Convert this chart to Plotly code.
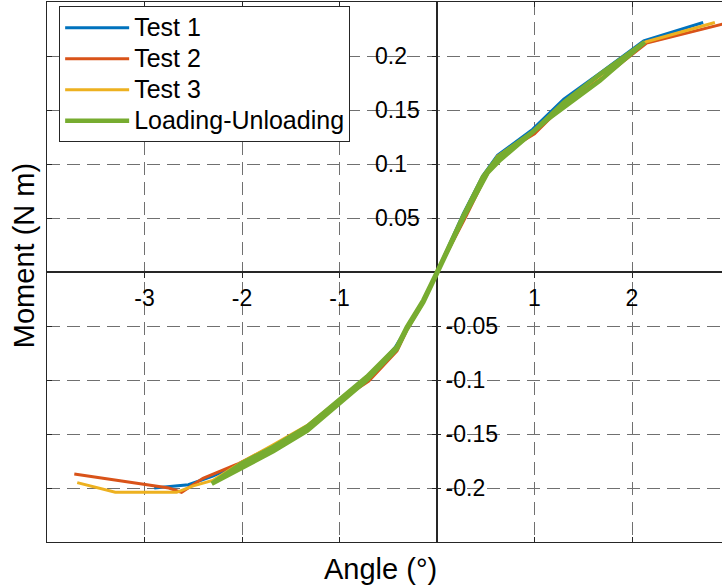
import plotly.graph_objects as go

# ---- data (angle in degrees, moment in N m) ----
test1_x = [-2.9, -2.55, -2.3, -2.0, -1.68, -1.33, -1.0, -0.72, -0.55, -0.43, -0.31, -0.14, 0.0,
           0.27, 0.47, 0.62, 0.98, 1.30, 1.67, 2.12, 2.73]
test1_y = [-0.200, -0.197, -0.189, -0.177, -0.162, -0.144, -0.119, -0.098, -0.082, -0.070, -0.052, -0.027, 0.0,
           0.054, 0.089, 0.108, 0.132, 0.160, 0.184, 0.214, 0.231]

test2_x = [-3.72, -2.75, -2.62, -2.4, -2.05, -1.68, -1.33, -1.0, -0.7, -0.41, -0.31, -0.14, 0.0,
           0.30, 0.48, 0.62, 1.0, 1.3, 1.7, 2.15, 2.95]
test2_y = [-0.187, -0.200, -0.204, -0.191, -0.178, -0.161, -0.143, -0.119, -0.101, -0.073, -0.054, -0.028, 0.0,
           0.052, 0.085, 0.107, 0.128, 0.155, 0.180, 0.212, 0.230]

test3_x = [-3.69, -3.3, -2.67, -2.5, -2.3, -2.0, -1.68, -1.33, -1.0, -0.72, -0.41, -0.31, -0.14, 0.0,
           0.28, 0.48, 0.62, 0.98, 1.3, 1.67, 2.14, 2.85]
test3_y = [-0.195, -0.204, -0.204, -0.198, -0.193, -0.176, -0.160, -0.142, -0.118, -0.099, -0.071, -0.053, -0.028, 0.0,
           0.052, 0.086, 0.107, 0.130, 0.157, 0.182, 0.213, 0.231]

load_x = [0.0, 0.27, 0.47, 0.62, 1.0, 1.3, 1.67, 2.13,
          1.67, 1.13, 0.65, 0.52, 0.27, 0.0,
          -0.14, -0.31, -0.41, -0.72, -1.0, -1.33, -1.68, -2.0, -2.31,
          -2.0, -1.68, -1.33, -1.0, -0.72, -0.41, -0.31, -0.14, 0.0]
load_y = [0.0, 0.052, 0.088, 0.106, 0.131, 0.157, 0.183, 0.213,
          0.177, 0.141, 0.104, 0.092, 0.050, 0.0,
          -0.028, -0.053, -0.071, -0.100, -0.121, -0.147, -0.166, -0.181, -0.196,
          -0.177, -0.162, -0.143, -0.118, -0.097, -0.069, -0.051, -0.026, 0.0]

names = ["Test 1", "Test 2", "Test 3", "Loading-Unloading"]
colors = ["#0072BD", "#D95319", "#EDB120", "#77AC30"]
widths = [3, 3, 3, 4.5]

x_ticks_all = [-4, -3, -2, -1, 0, 1, 2, 3]
x_tick_vals = [-3, -2, -1, 1, 2]
x_tick_text = ["-3", "-2", "-1", "1", "2"]
y_ticks_all = [-0.25, -0.2, -0.15, -0.1, -0.05, 0, 0.05, 0.1, 0.15, 0.2, 0.25]
y_pos_vals = [0.05, 0.1, 0.15, 0.2]
y_pos_text = ["0.05", "0.1", "0.15", "0.2"]
y_neg_vals = [-0.05, -0.1, -0.15, -0.2]
y_neg_text = ["-0.05", "-0.1", "-0.15", "-0.2"]
y_axis_tick_vals = [-0.2, -0.15, -0.1, -0.05, 0.05, 0.1, 0.15, 0.2]

X_RANGE = [-4, 2.923]
Y_RANGE = [-0.25, 0.25]

FONT = "Liberation Sans, Arial, Helvetica, sans-serif"
AX = "#262626"
GRID = "#707070"

fig = go.Figure()
for xs, ys, n, c, w in zip([test1_x, test2_x, test3_x, load_x],
                           [test1_y, test2_y, test3_y, load_y], names, colors, widths):
    fig.add_trace(go.Scatter(x=xs, y=ys, mode="lines",
                             name='<span style="font-size:25px">' + n + '</span>',
                             line=dict(color=c, width=w)))

# invisible traces to activate the label axes
for ya in ["y2", "y3", "y4"]:
    fig.add_trace(go.Scatter(x=[0], y=[0], xaxis="x2" if ya == "y2" else "x", yaxis=ya,
                             mode="markers", marker=dict(opacity=0),
                             showlegend=False, hoverinfo="skip"))

PLOT_L, PLOT_W = 47, 675
x0_frac = (0 - X_RANGE[0]) / (X_RANGE[1] - X_RANGE[0])
pos_label_frac = (374 - PLOT_L) / PLOT_W
tickfont = dict(size=23, family=FONT, color="#000000")

fig.update_layout(
    width=722, height=588,
    margin=dict(l=PLOT_L, r=0, t=2, b=46, autoexpand=False),
    paper_bgcolor="white", plot_bgcolor="white",
    font=dict(family=FONT, color="#000000", size=23),
    showlegend=True,
    legend=dict(x=0.018, y=0.992, xanchor="left", yanchor="top",
                bgcolor="white", bordercolor=AX, borderwidth=1,
                font=dict(size=21.5, family=FONT, color="#000000"),
                itemwidth=64, tracegroupgap=0),
    xaxis=dict(range=X_RANGE, tickvals=x_ticks_all, showticklabels=False, automargin=False,
               ticks="inside", ticklen=5, tickcolor=AX,
               showline=True, linecolor=AX, linewidth=1.3, mirror="ticks",
               showgrid=True, gridcolor=GRID, griddash="13px,7px", gridwidth=1,
               zeroline=True, zerolinecolor=AX, zerolinewidth=1.5),
    yaxis=dict(range=Y_RANGE, tickvals=y_ticks_all, showticklabels=False, automargin=False,
               ticks="inside", ticklen=5, tickcolor=AX,
               showline=True, linecolor=AX, linewidth=1.3, mirror=False,
               showgrid=True, gridcolor=GRID, griddash="13px,7px", gridwidth=1,
               zeroline=True, zerolinecolor=AX, zerolinewidth=1.5),
    xaxis2=dict(overlaying="x", matches="x", anchor="free", position=0.5, automargin=False,
                side="bottom", tickvals=x_tick_vals, ticktext=x_tick_text,
                ticks="outside", ticklen=5,
                tickcolor=AX, showline=False, showgrid=False, zeroline=False,
                ticklabelstandoff=0, tickfont=tickfont),
    # positive labels: left-aligned block to the left of the vertical axis
    yaxis2=dict(overlaying="y", matches="y", anchor="free", position=pos_label_frac, automargin=False,
                side="right", tickvals=y_pos_vals, ticktext=y_pos_text,
                ticks="", showline=False, showgrid=False, zeroline=False, ticklabelstandoff=0,
                tickfont=tickfont),
    # negative labels: right of the vertical axis
    yaxis3=dict(overlaying="y", matches="y", anchor="free", position=x0_frac, automargin=False,
                side="right", tickvals=y_neg_vals, ticktext=y_neg_text,
                ticks="outside", ticklen=3, tickcolor=AX,
                showline=False, showgrid=False, zeroline=False, ticklabelstandoff=0,
                tickfont=tickfont),
    # tick marks on the vertical axis through x = 0
    yaxis4=dict(overlaying="y", matches="y", anchor="free", position=x0_frac, automargin=False,
                side="left", tickvals=y_axis_tick_vals, showticklabels=False,
                ticks="outside", ticklen=5, tickcolor=AX,
                showline=False, showgrid=False, zeroline=False),
    annotations=[
        dict(text="Angle (°)", xref="paper", yref="paper", x=0.4935, y=-0.05,
             xanchor="center", yanchor="middle", showarrow=False,
             font=dict(size=29, family=FONT, color="#000000")),
        dict(text="Moment (N m)", xref="paper", yref="paper", x=-0.035, y=0.53,
             xanchor="center", yanchor="middle", textangle=-90, showarrow=False,
             font=dict(size=29, family=FONT, color="#000000")),
    ],
)

fig.write_html("out.html", config={"displayModeBar": False},
               post_script="document.body.style.margin='0';")
